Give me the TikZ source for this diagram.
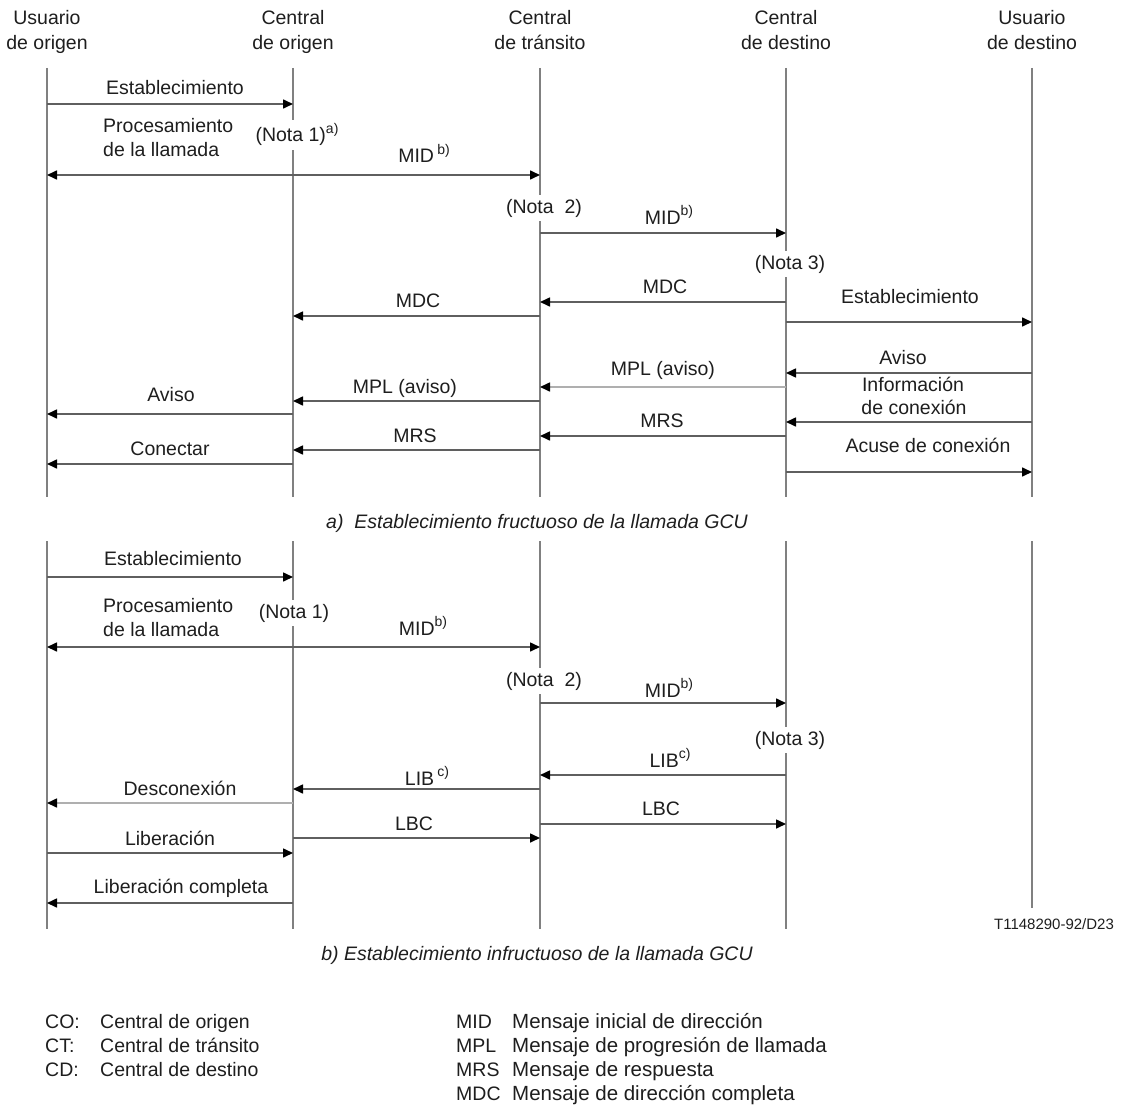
\documentclass[tikz,border=0pt]{standalone}
\usepackage{fontspec}
\setmainfont{Liberation Sans}
\usetikzlibrary{arrows.meta}
\definecolor{lifegray}{RGB}{128,128,128}
\definecolor{msggray}{RGB}{95,95,95}
\definecolor{fadegray}{RGB}{175,175,175}
\definecolor{txtcol}{RGB}{30,30,30}
\newcommand\mainsize{\fontsize{19.5}{23}\selectfont}
\newcommand\supmark[1]{\raisebox{0.42em}{\fontsize{14}{14}\selectfont #1}}
\begin{document}
\begin{tikzpicture}[x=1pt,y=-1pt,
  lifeline/.style={draw=lifegray, line width=1.4pt},
  msg/.style={draw=msggray, line width=1.6pt, -{Triangle[length=10pt,width=9pt,color=black]}},
  msgboth/.style={draw=msggray, line width=1.6pt, {Triangle[length=10pt,width=9pt,color=black]}-{Triangle[length=10pt,width=9pt,color=black]}},
  fade/.style={draw=fadegray},
  lbl/.style={font=\mainsize, inner sep=0pt, anchor=base, text=txtcol},
  nota/.style={lbl, fill=white, inner xsep=1pt, inner ysep=4pt},
  capt/.style={lbl, font=\mainsize\itshape},
  leg/.style={lbl, anchor=base west, font=\fontsize{19.5}{23}\selectfont},
  legr/.style={lbl, anchor=base west, font=\fontsize{20.5}{23}\selectfont}]
\useasboundingbox[fill=white] (0,0) rectangle (1122,1105);

% lanes
\coordinate (L1) at (47,0);
\coordinate (L2) at (293,0);
\coordinate (L3) at (540,0);
\coordinate (L4) at (786,0);
\coordinate (L5) at (1032,0);

% headers
\node[lbl] (h1a) at (47,25) {Usuario};
\node[lbl] (h1b) at (47,50) {de origen};
\node[lbl] (h2a) at (293,25) {Central};
\node[lbl] (h2b) at (293,50) {de origen};
\node[lbl] (h3a) at (540,25) {Central};
\node[lbl] (h3b) at (540,50) {de tránsito};
\node[lbl] (h4a) at (786,25) {Central};
\node[lbl] (h4b) at (786,50) {de destino};
\node[lbl] (h5a) at (1032,25) {Usuario};
\node[lbl] (h5b) at (1032,50) {de destino};

% ---------- section a: lifelines
\coordinate (a1t) at (47,68);   \coordinate (a1b) at (47,497);
\coordinate (a2t) at (293,68);  \coordinate (a2b) at (293,497);
\coordinate (a3t) at (540,68);  \coordinate (a3b) at (540,497);
\coordinate (a4t) at (786,68);  \coordinate (a4b) at (786,497);
\coordinate (a5t) at (1032,68); \coordinate (a5b) at (1032,497);
\foreach \i in {1,...,5} {\draw[lifeline] (a\i t) -- (a\i b);}

\node[nota] (an1) at (297,142) {(Nota 1)\supmark{a)}};
\node[nota] (an2) at (544,213) {(Nota\ \ 2)};
\node[nota] (an3) at (790,269) {(Nota 3)};

\node[lbl] (aest1) at (175,95) {Establecimiento};
\draw[msg] (L1 |- 0,104) -- (L2 |- 0,104);
\node[lbl, anchor=base west] (aproc1) at (103,133) {Procesamiento};
\node[lbl, anchor=base west] (aproc2) at (103,157) {de la llamada};
\node[lbl] (amid1) at (424,163) {MID\,\supmark{b)}};
\draw[msgboth] (L1 |- 0,175) -- (L3 |- 0,175);
\node[lbl] (amid2) at (669,224) {MID\supmark{b)}};
\draw[msg] (L3 |- 0,233) -- (L4 |- 0,233);
\node[lbl] (amdc2) at (665,293) {MDC};
\draw[msg] (L4 |- 0,302) -- (L3 |- 0,302);
\node[lbl] (aest2) at (910,303) {Establecimiento};
\draw[msg] (L4 |- 0,322) -- (L5 |- 0,322);
\node[lbl] (amdc1) at (418,307) {MDC};
\draw[msg] (L3 |- 0,316) -- (L2 |- 0,316);
\node[lbl] (aaviso2) at (903,364) {Aviso};
\draw[msg] (L5 |- 0,373) -- (L4 |- 0,373);
\node[lbl] (ampl2) at (663,375) {MPL (aviso)};
\draw[msg, fade] (L4 |- 0,387) -- (L3 |- 0,387);
\node[lbl] (ainfo1) at (913,391) {Información};
\node[lbl] (ainfo2) at (914,414) {de conexión};
\draw[msg] (L5 |- 0,422) -- (L4 |- 0,422);
\node[lbl] (ampl1) at (405,393) {MPL (aviso)};
\draw[msg] (L3 |- 0,401) -- (L2 |- 0,401);
\node[lbl] (aaviso1) at (171,401) {Aviso};
\draw[msg] (L2 |- 0,414) -- (L1 |- 0,414);
\node[lbl] (amrs2) at (662,427) {MRS};
\draw[msg] (L4 |- 0,436) -- (L3 |- 0,436);
\node[lbl] (amrs1) at (415,442) {MRS};
\draw[msg] (L3 |- 0,450) -- (L2 |- 0,450);
\node[lbl] (acon) at (170,455) {Conectar};
\draw[msg] (L2 |- 0,464) -- (L1 |- 0,464);
\node[lbl] (aacuse) at (928,452) {Acuse de conexión};
\draw[msg] (L4 |- 0,472) -- (L5 |- 0,472);

\node[capt] (capa) at (537,528) {a)\ \ Establecimiento fructuoso de la llamada GCU};

% ---------- section b: lifelines
\coordinate (b1t) at (47,541);   \coordinate (b1b) at (47,929);
\coordinate (b2t) at (293,541);  \coordinate (b2b) at (293,929);
\coordinate (b3t) at (540,541);  \coordinate (b3b) at (540,929);
\coordinate (b4t) at (786,541);  \coordinate (b4b) at (786,929);
\coordinate (b5t) at (1032,541); \coordinate (b5b) at (1032,908);
\foreach \i in {1,...,5} {\draw[lifeline] (b\i t) -- (b\i b);}

\node[nota] (bn1) at (294,618) {(Nota 1)};
\node[nota] (bn2) at (544,686) {(Nota\ \ 2)};
\node[nota] (bn3) at (790,745) {(Nota 3)};

\node[lbl] (best1) at (173,565) {Establecimiento};
\draw[msg] (L1 |- 0,577) -- (L2 |- 0,577);
\node[lbl, anchor=base west] (bproc1) at (103,612) {Procesamiento};
\node[lbl, anchor=base west] (bproc2) at (103,636) {de la llamada};
\node[lbl] (bmid1) at (423,635) {MID\supmark{b)}};
\draw[msgboth] (L1 |- 0,647) -- (L3 |- 0,647);
\node[lbl] (bmid2) at (669,697) {MID\supmark{b)}};
\draw[msg] (L3 |- 0,703) -- (L4 |- 0,703);
\node[lbl] (blib2) at (670,767) {LIB\supmark{c)}};
\draw[msg] (L4 |- 0,775) -- (L3 |- 0,775);
\node[lbl] (blib1) at (427,785) {LIB\,\supmark{c)}};
\draw[msg] (L3 |- 0,789) -- (L2 |- 0,789);
\node[lbl] (bdesc) at (180,795) {Desconexión};
\draw[msg, fade] (L2 |- 0,803) -- (L1 |- 0,803);
\node[lbl] (blbc2) at (661,815) {LBC};
\draw[msg] (L3 |- 0,824) -- (L4 |- 0,824);
\node[lbl] (blbc1) at (414,830) {LBC};
\draw[msg] (L2 |- 0,838) -- (L3 |- 0,838);
\node[lbl] (blib) at (170,845) {Liberación};
\draw[msg] (L1 |- 0,853) -- (L2 |- 0,853);
\node[lbl] (blibc) at (181,893) {Liberación completa};
\draw[msg] (L2 |- 0,903) -- (L1 |- 0,903);

\node[lbl, font=\fontsize{15}{17}\selectfont] (tref) at (1054,929) {T1148290-92/D23};
\node[capt] (capb) at (537,960) {b) Establecimiento infructuoso de la llamada GCU};

% ---------- legend
\node[leg] (lco) at (45,1028) {CO:};
\node[leg] (lcot) at (100,1028) {Central de origen};
\node[leg] (lct) at (45,1052) {CT:};
\node[leg] (lctt) at (100,1052) {Central de tránsito};
\node[leg] (lcd) at (45,1076) {CD:};
\node[leg] (lcdt) at (100,1076) {Central de destino};
\node[leg] (lmid) at (456,1028) {MID};
\node[legr] (lmidt) at (512,1028) {Mensaje inicial de dirección};
\node[leg] (lmpl) at (456,1052) {MPL};
\node[legr] (lmplt) at (512,1052) {Mensaje de progresión de llamada};
\node[leg] (lmrs) at (456,1076) {MRS};
\node[legr] (lmrst) at (512,1076) {Mensaje de respuesta};
\node[leg] (lmdc) at (456,1100) {MDC};
\node[legr] (lmdct) at (512,1100) {Mensaje de dirección completa};
\end{tikzpicture}
\end{document}
